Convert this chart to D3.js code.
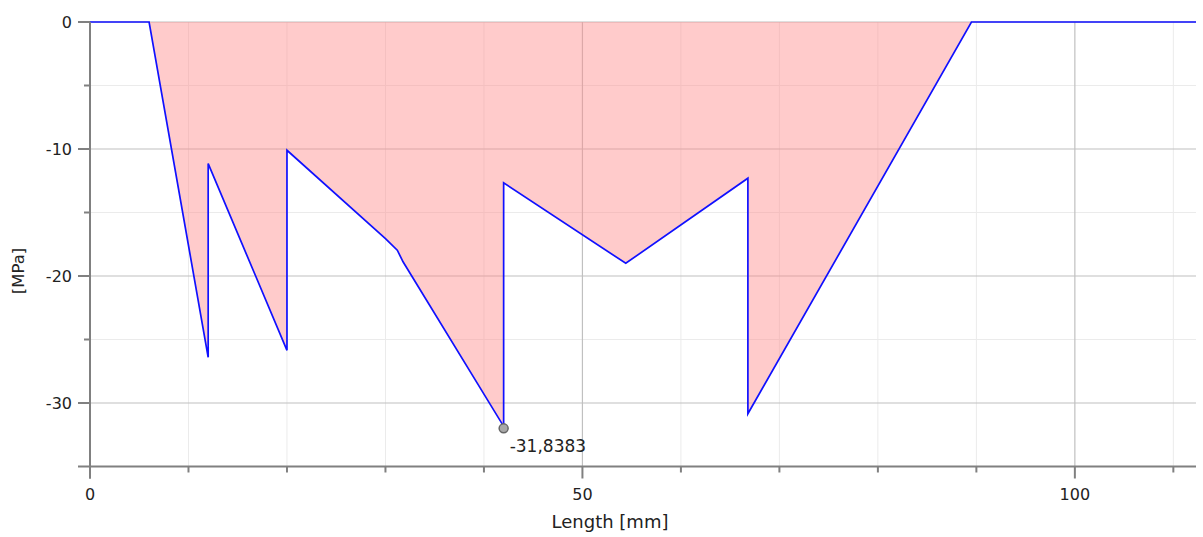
<!DOCTYPE html>
<html><head><meta charset="utf-8">
<script src="https://cdn.jsdelivr.net/npm/d3@7"></script>
<style>body{margin:0;background:#fff}svg{display:block}</style>
</head><body><svg id="c" width="1203" height="537"></svg>
<script>
const lengthMm = [0, 6, 12, 12, 20, 20, 30, 31.2, 31.8, 42, 42, 54.4, 66.8, 66.8, 89.5, 112.3];
const stressMPa = [0, 0, -26.4, -11.15, -25.85, -10.1, -17.05, -17.97, -18.9, -31.8383, -12.67, -19.0, -12.3, -30.85, 0, 0];
const xMajorTicks = [0, 50, 100];
const xMinorTicks = [10, 20, 30, 40, 60, 70, 80, 90, 110];
const yMajorTicks = [0, -10, -20, -30];
const yMinorTicks = [-5, -15, -25];
const minLabel = "-31,8383";
const xTitle = "Length [mm]";
const yTitle = "[MPa]";

const svg = d3.select("#c");
const x = d3.scaleLinear().domain([0, 112.3]).range([90, 1196]);
const y = d3.scaleLinear().domain([-35, 0]).range([466.5, 22]);
const font = "DejaVu Sans, Verdana, sans-serif";

// grid
const g = svg.append("g");
g.selectAll(".ymin").data(yMinorTicks).join("line")
  .attr("x1", x(0)).attr("x2", x(112.3)).attr("y1", d => y(d)).attr("y2", d => y(d))
  .attr("stroke", "#ebebeb").attr("stroke-width", 1);
g.selectAll(".xmin").data(xMinorTicks).join("line")
  .attr("y1", y(0)).attr("y2", y(-35)).attr("x1", d => x(d)).attr("x2", d => x(d))
  .attr("stroke", "#ebebeb").attr("stroke-width", 1);
g.selectAll(".ymaj").data(yMajorTicks).join("line")
  .attr("x1", x(0)).attr("x2", x(112.3)).attr("y1", d => y(d)).attr("y2", d => y(d))
  .attr("stroke", "#c0c0c0").attr("stroke-width", 1.2);
g.selectAll(".xmaj").data(xMajorTicks.filter(d => d > 0)).join("line")
  .attr("y1", y(0)).attr("y2", y(-35)).attr("x1", d => x(d)).attr("x2", d => x(d))
  .attr("stroke", "#c0c0c0").attr("stroke-width", 1.2);

const pts = lengthMm.map((d, i) => [d, stressMPa[i]]);
svg.append("path").datum(pts)
  .attr("d", d3.area().x(d => x(d[0])).y0(y(0)).y1(d => y(d[1])))
  .attr("fill", "rgb(255,140,140)").attr("fill-opacity", 0.45);
svg.append("path").datum(pts)
  .attr("d", d3.line().x(d => x(d[0])).y(d => y(d[1])))
  .attr("fill", "none").attr("stroke", "#1010ff").attr("stroke-width", 1.7);

// axes
const xAxis = svg.append("g").attr("transform", `translate(0,${y(-35)})`);
xAxis.append("line").attr("x1", x(0) - 12).attr("x2", x(112.3)).attr("stroke", "#808080").attr("stroke-width", 2);
xAxis.selectAll(".tmaj").data(xMajorTicks).join("line")
  .attr("x1", d => x(d)).attr("x2", d => x(d)).attr("y1", 0).attr("y2", 12)
  .attr("stroke", "#808080").attr("stroke-width", 2);
xAxis.selectAll(".tmin").data(xMinorTicks).join("line")
  .attr("x1", d => x(d)).attr("x2", d => x(d)).attr("y1", 0).attr("y2", 6)
  .attr("stroke", "#808080").attr("stroke-width", 2);
xAxis.selectAll("text").data(xMajorTicks).join("text")
  .attr("x", d => x(d)).attr("y", 33).attr("text-anchor", "middle")
  .attr("font-family", font).attr("font-size", 16).attr("fill", "#222").text(d => d);

const yAxis = svg.append("g").attr("transform", `translate(${x(0)},0)`);
yAxis.append("line").attr("y1", y(0)).attr("y2", y(-35) + 12).attr("stroke", "#808080").attr("stroke-width", 2);
yAxis.selectAll(".tmaj").data(yMajorTicks).join("line")
  .attr("y1", d => y(d)).attr("y2", d => y(d)).attr("x1", -12).attr("x2", 0)
  .attr("stroke", "#808080").attr("stroke-width", 2);
yAxis.selectAll(".tmin").data(yMinorTicks).join("line")
  .attr("y1", d => y(d)).attr("y2", d => y(d)).attr("x1", -6).attr("x2", 0)
  .attr("stroke", "#808080").attr("stroke-width", 2);
yAxis.selectAll("text").data(yMajorTicks).join("text")
  .attr("x", -18).attr("y", d => y(d)).attr("dy", "0.36em").attr("text-anchor", "end")
  .attr("font-family", font).attr("font-size", 16).attr("fill", "#222").text(d => d);

// titles
svg.append("text").attr("x", 610).attr("y", 528).attr("text-anchor", "middle")
  .attr("font-family", font).attr("font-size", 18).attr("fill", "#222").text(xTitle);
svg.append("text").attr("transform", "translate(24,271) rotate(-90)").attr("text-anchor", "middle")
  .attr("font-family", font).attr("font-size", 16.5).attr("fill", "#222").text(yTitle);

// min marker
const mi = stressMPa.indexOf(d3.min(stressMPa));
svg.append("circle").attr("cx", x(lengthMm[mi])).attr("cy", y(stressMPa[mi]) + 2).attr("r", 4.5)
  .attr("fill", "#a8a8a8").attr("stroke", "#666").attr("stroke-width", 1.5);
svg.append("text").attr("x", x(lengthMm[mi]) + 6).attr("y", y(stressMPa[mi]) + 26)
  .attr("font-family", font).attr("font-size", 17).attr("fill", "#222").text(minLabel);
</script></body></html>
